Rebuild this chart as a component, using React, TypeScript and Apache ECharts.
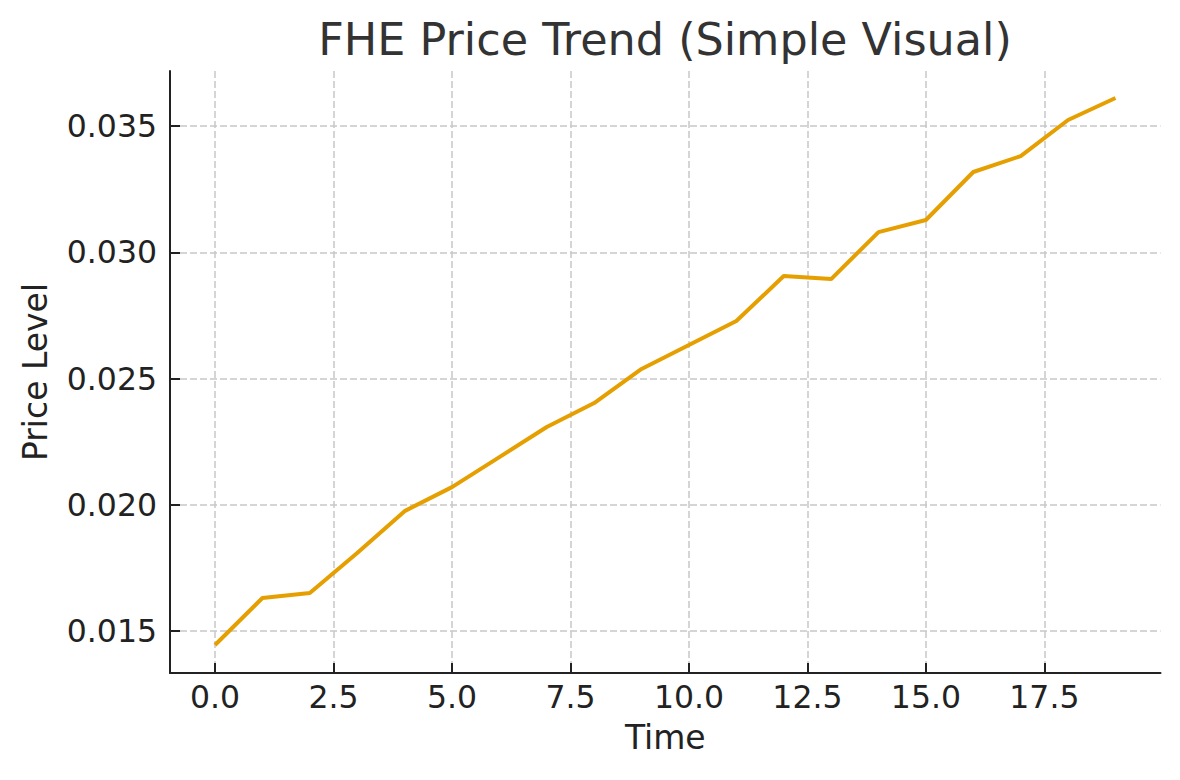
import React, { useEffect, useRef } from "react";
import * as echarts from "echarts";

const timeSteps = [0, 1, 2, 3, 4, 5, 6, 7, 8, 9, 10, 11, 12, 13, 14, 15, 16, 17, 18, 19];
const priceLevels = [
  0.01445, 0.01631, 0.01651, 0.01809, 0.01975, 0.0207, 0.02189, 0.02308, 0.02403, 0.02538,
  0.02633, 0.02728, 0.02906, 0.02894, 0.0308, 0.03128, 0.03318, 0.03381, 0.03524, 0.03611,
];
const xTickValues = [0, 2.5, 5, 7.5, 10, 12.5, 15, 17.5];
const yTickValues = [0.015, 0.02, 0.025, 0.03, 0.035];
const xRange = [-0.95, 19.95];
const yRange = [0.01334, 0.03718];

const FONT = "DejaVu Sans";
const INK = "#222222";

export default function App() {
  const ref = useRef<HTMLDivElement>(null);
  useEffect(() => {
    if (!ref.current) return;
    const chart = echarts.init(ref.current, null, { renderer: "svg" });
    chart.setOption({
      animation: false,
      backgroundColor: "#ffffff",
      title: {
        text: "FHE Price Trend (Simple Visual)",
        left: 660,
        top: 12,
        textAlign: "center",
        textStyle: { fontFamily: FONT, fontSize: 44.5, fontWeight: "normal", color: "#333333" },
      },
      grid: { left: 170, right: 19.5, top: 71, bottom: 107, containLabel: false, outerBoundsMode: "none" },
      xAxis: {
        type: "value",
        min: xRange[0],
        max: xRange[1],
        name: "Time",
        nameLocation: "middle",
        nameGap: 48,
        nameTextStyle: { fontFamily: FONT, fontSize: 33, color: INK },
        axisLine: { show: true, onZero: false, lineStyle: { color: INK, width: 2 } },
        axisTick: { show: true, inside: true, length: 10, customValues: xTickValues, lineStyle: { color: INK, width: 2 } },
        axisLabel: {
          customValues: xTickValues,
          formatter: (v: number) => v.toFixed(1),
          fontFamily: FONT,
          fontSize: 31.5,
          color: INK,
          margin: 8,
        },
        splitLine: { show: true, lineStyle: { color: "#c8c8c8", width: 1.5, type: [7, 3] } },
      },
      yAxis: {
        type: "value",
        min: yRange[0],
        max: yRange[1],
        name: "Price Level",
        nameLocation: "middle",
        nameRotate: 90,
        nameGap: 118,
        nameTextStyle: { fontFamily: FONT, fontSize: 33, color: INK },
        axisLine: { show: true, onZero: false, lineStyle: { color: INK, width: 2 } },
        axisTick: { show: true, inside: true, length: 10, customValues: yTickValues, lineStyle: { color: INK, width: 2 } },
        axisLabel: {
          customValues: yTickValues,
          formatter: (v: number) => v.toFixed(3),
          fontFamily: FONT,
          fontSize: 31.5,
          color: INK,
          margin: 13,
        },
        splitLine: { show: true, lineStyle: { color: "#c8c8c8", width: 1.5, type: [7, 3] } },
      },
      series: [
        {
          type: "line",
          data: timeSteps.map((t, i) => [t, priceLevels[i]]),
          showSymbol: false,
          symbol: "none",
          lineStyle: { color: "#E69F00", width: 4 },
          itemStyle: { color: "#E69F00" },
        },
      ],
    });
    return () => chart.dispose();
  }, []);
  return <div ref={ref} style={{ position: "absolute", left: 0, top: 0, width: 1180, height: 780 }} />;
}
